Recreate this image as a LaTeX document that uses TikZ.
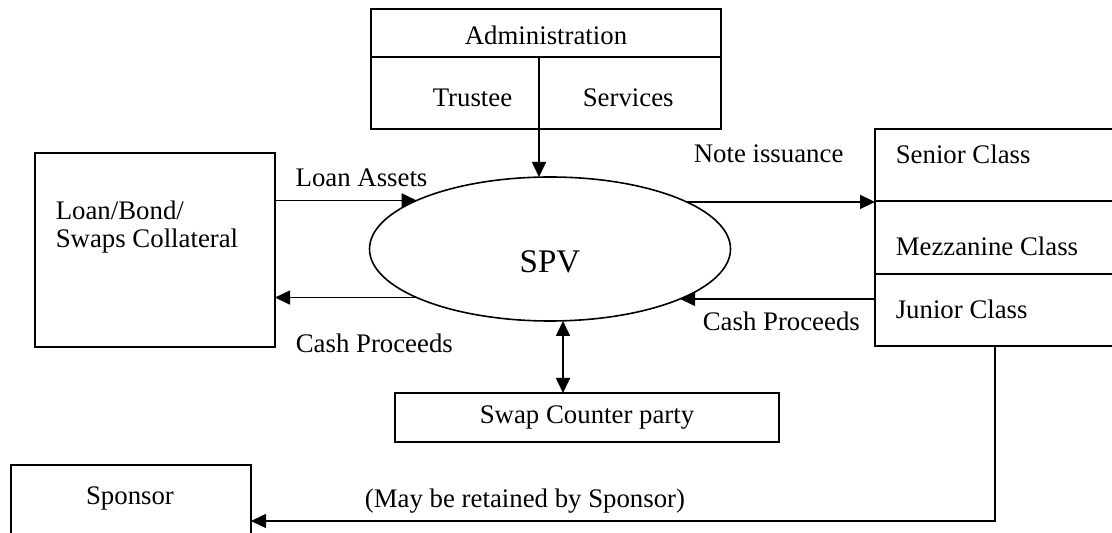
\documentclass[tikz,border=0pt]{standalone}
\usepackage{fontspec}
\setmainfont{Liberation Serif}
\usetikzlibrary{arrows.meta,shapes.geometric}

\begin{document}
\begin{tikzpicture}[x=0.5pt,y=-0.5pt,line width=0.8pt,
	>={Triangle[length=7.5pt,width=7pt]},
	box/.style={draw,rectangle,inner sep=0,outer sep=0},
	lbl/.style={inner sep=0,font=\fontsize{13.4}{16}\selectfont}]
	\useasboundingbox (0,0) rectangle (1112,533);
	\clip (0,0) rectangle (1112,533);

	% boxes
	\node[box,minimum width=175pt,minimum height=60pt] (Adm) at (546,69) {};
	\node[box,minimum width=120pt,minimum height=97pt] (Coll) at (155,250) {};
	\node[draw,ellipse,inner sep=0,outer sep=0,minimum width=180.5pt,minimum height=72pt] (SPV) at (550,249) {};
	\node[box,minimum width=120pt,minimum height=108.5pt] (Cls) at (995,237.5) {};
	\node[box,lbl,minimum width=192pt,minimum height=24.5pt] (Swap) at (587,417.5) {Swap Counter party};
	\node[box,minimum width=120pt,minimum height=56pt] (Spo) at (131,521) {};

	% texts
	\node[lbl,anchor=base] (AdmT) at (546,45) {Administration};
	\node[lbl,anchor=base west] (Tru) at (432,107) {Trustee};
	\node[lbl,anchor=base west] (Ser) at (582,107) {Services};
	\node[lbl,anchor=base west] (CollA) at (55,220) {Loan/Bond/};
	\node[lbl,anchor=base west] (CollB) at (55,248) {Swaps Collateral};
	\node[inner sep=0,font=\fontsize{16.5}{20}\selectfont,anchor=base] (SPVT) at (550,273) {SPV};
	\node[lbl,anchor=base west] (Sen) at (895,164) {Senior Class};
	\node[lbl,anchor=base west] (Mez) at (895,256) {Mezzanine Class};
	\node[lbl,anchor=base west] (Jun) at (895,319) {Junior Class};
	\node[lbl,anchor=base] (SpoT) at (130,504) {Sponsor};

	% inner lines
	\coordinate (AdmD) at (539,57);
	\draw (Adm.west |- AdmD) -- (Adm.east |- AdmD);
	\draw (Cls.west |- 0,201) -- (Cls.east |- 0,201);
	\draw (Cls.west |- 0,274) -- (Cls.east |- 0,274);

	% flows
	\draw[->] (AdmD) -- (AdmD |- SPV.north);
	\draw[->] (SPV.160.4 -| Coll.east) -- node[lbl,anchor=base west,pos=0.14,yshift=7pt] (LA) {Loan Assets} (SPV.160.4);
	\draw[->] (SPV.200.3) -- (SPV.200.3 -| Coll.east);
	\node[lbl,anchor=base west] (CP1) at (295,353) {Cash Proceeds};
	\draw[->] (SPV.19.6) -- (SPV.19.6 -| Cls.west);
	\node[lbl,anchor=base west] (NI) at (693,163) {Note issuance};
	\draw[->] (SPV.339.7 -| Cls.west) -- (SPV.339.7);
	\node[lbl,anchor=base west] (CP2) at (702,331) {Cash Proceeds};
	\draw[<->] ([xshift=6.5pt]SPV.south) -- ([xshift=6.5pt]SPV.south |- Swap.north);
	\draw[->] (Cls.south) |- (Spo.east);
	\node[lbl,anchor=base] (Ret) at (525,507) {(May be retained by Sponsor)};
\end{tikzpicture}
\end{document}
